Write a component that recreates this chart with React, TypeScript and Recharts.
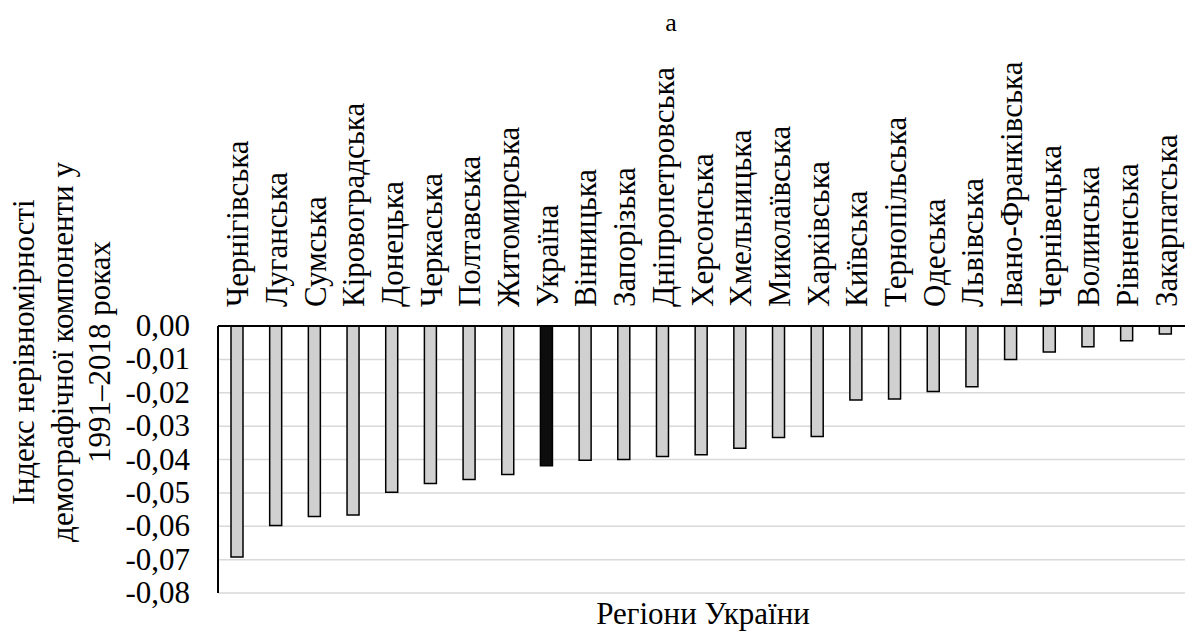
import React from 'react';
import { BarChart, Bar, XAxis, YAxis, CartesianGrid, Cell } from 'recharts';

const REGIONS = [
  'Чернігівська', 'Луганська', 'Сумська', 'Кіровоградська', 'Донецька', 'Черкаська',
  'Полтавська', 'Житомирська', 'Україна', 'Вінницька', 'Запорізька', 'Дніпропетровська',
  'Херсонська', 'Хмельницька', 'Миколаївська', 'Харківська', 'Київська', 'Тернопільська',
  'Одеська', 'Львівська', 'Івано-Франківська', 'Чернівецька', 'Волинська', 'Рівненська',
  'Закарпатська',
];
const VALUES = [
  -0.0692, -0.0598, -0.0571, -0.0566, -0.0498, -0.0472, -0.046, -0.0445, -0.0419, -0.0402,
  -0.04, -0.0391, -0.0386, -0.0366, -0.0334, -0.0331, -0.0222, -0.0219, -0.0196, -0.0182,
  -0.01, -0.0078, -0.0062, -0.0044, -0.0024,
];
const Y_TICKS = [0, -0.01, -0.02, -0.03, -0.04, -0.05, -0.06, -0.07, -0.08];
const HIGHLIGHT = 'Україна';

const FONT = '"Liberation Serif"';

const data = REGIONS.map((name, i) => ({ name, value: VALUES[i] }));

function CatTick({ x, y, payload }: any) {
  return (
    <text
      x={x}
      y={y}
      dy={11}
      transform={`rotate(-90, ${x}, ${y})`}
      textAnchor="start"
      fontSize={31}
      fill="#000"
    >
      {payload.value}
    </text>
  );
}

function YTitle() {
  // three lines, rotated
  return (
    <text transform="rotate(-90)" textAnchor="middle" fontSize={31} fill="#000">
      <tspan x={-352} y={34}>Індекс нерівномірності</tspan>
      <tspan x={-352} y={73}>демографічної компоненти у</tspan>
      <tspan x={-352} y={110}>1991–2018 роках</tspan>
    </text>
  );
}

function YTick({ x, y, payload }: any) {
  return (
    <text x={x} y={y} dy={10} textAnchor="end" fontSize={31} fill="#000">
      {payload.value.toFixed(2).replace('.', ',')}
    </text>
  );
}

export default function App() {
  return (
    <div style={{ fontFamily: FONT }}>
      <div style={{ position: 'absolute', left: 0, top: 0, width: 1187, height: 634 }}>
        <div style={{ position: 'absolute', left: 571, top: 10, width: 200, textAlign: 'center', fontSize: 26, lineHeight: 1 }}>
          а
        </div>
        <BarChart width={1187} height={634} data={data} margin={{ top: 26, right: 2, bottom: 41, left: 0 }}>
          <CartesianGrid vertical={false} stroke="#d9d9d9" strokeWidth={1.5} />
          <XAxis
            dataKey="name"
            orientation="top"
            height={300}
            interval={0}
            tickSize={0}
            tickMargin={19}
            tickLine={false}
            tick={<CatTick />}
            axisLine={{ stroke: '#000', strokeWidth: 2 }}
          />
          <YAxis
            type="number"
            domain={[-0.08, 0]}
            ticks={Y_TICKS}
            interval={0}
            width={218}
            tickSize={0}
            tickMargin={28}
            tickLine={false}
            axisLine={{ stroke: '#000', strokeWidth: 2 }}
            tick={<YTick />}
            label={<YTitle />}
          />
          <Bar dataKey="value" barSize={12} stroke="#000" strokeWidth={1.5} isAnimationActive={false}>
            {data.map((d) => (
              <Cell key={d.name} fill={d.name === HIGHLIGHT ? '#0d0d0d' : '#d0d0d0'} />
            ))}
          </Bar>
        </BarChart>
        <div style={{ position: 'absolute', left: 403, top: 598, width: 600, textAlign: 'center', fontSize: 31, lineHeight: 1 }}>
          Регіони України
        </div>
      </div>
    </div>
  );
}
